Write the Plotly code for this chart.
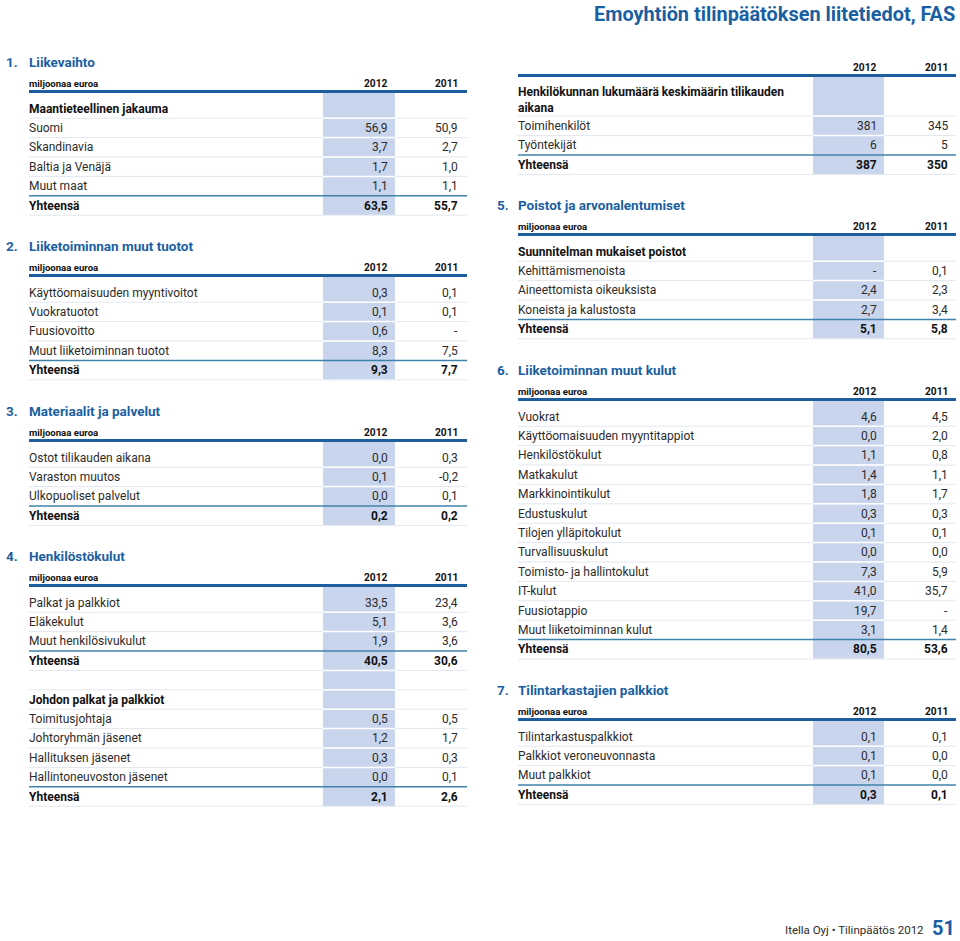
import plotly.graph_objects as go

# ---------------- data ----------------
page_title = "Emoyhtiön tilinpäätöksen liitetiedot, FAS"
years = ["2012", "2011"]
unit_label = "miljoonaa euroa"

s1_labels = ["Maantieteellinen jakauma", "Suomi", "Skandinavia", "Baltia ja Venäjä", "Muut maat", "Yhteensä"]
s1_2012 = ["", "56,9", "3,7", "1,7", "1,1", "63,5"]
s1_2011 = ["", "50,9", "2,7", "1,0", "1,1", "55,7"]

s2_labels = ["Käyttöomaisuuden myyntivoitot", "Vuokratuotot", "Fuusiovoitto", "Muut liiketoiminnan tuotot", "Yhteensä"]
s2_2012 = ["0,3", "0,1", "0,6", "8,3", "9,3"]
s2_2011 = ["0,1", "0,1", "-", "7,5", "7,7"]

s3_labels = ["Ostot tilikauden aikana", "Varaston muutos", "Ulkopuoliset palvelut", "Yhteensä"]
s3_2012 = ["0,0", "0,1", "0,0", "0,2"]
s3_2011 = ["0,3", "-0,2", "0,1", "0,2"]

s4_labels = ["Palkat ja palkkiot", "Eläkekulut", "Muut henkilösivukulut", "Yhteensä", "",
             "Johdon palkat ja palkkiot", "Toimitusjohtaja", "Johtoryhmän jäsenet",
             "Hallituksen jäsenet", "Hallintoneuvoston jäsenet", "Yhteensä"]
s4_2012 = ["33,5", "5,1", "1,9", "40,5", "", "", "0,5", "1,2", "0,3", "0,0", "2,1"]
s4_2011 = ["23,4", "3,6", "3,6", "30,6", "", "", "0,5", "1,7", "0,3", "0,1", "2,6"]

s4b_labels = ["Henkilökunnan lukumäärä keskimäärin tilikauden<br>aikana", "Toimihenkilöt", "Työntekijät", "Yhteensä"]
s4b_2012 = ["", "381", "6", "387"]
s4b_2011 = ["", "345", "5", "350"]

s5_labels = ["Suunnitelman mukaiset poistot", "Kehittämismenoista", "Aineettomista oikeuksista",
             "Koneista ja kalustosta", "Yhteensä"]
s5_2012 = ["", "-", "2,4", "2,7", "5,1"]
s5_2011 = ["", "0,1", "2,3", "3,4", "5,8"]

s6_labels = ["Vuokrat", "Käyttöomaisuuden myyntitappiot", "Henkilöstökulut", "Matkakulut",
             "Markkinointikulut", "Edustuskulut", "Tilojen ylläpitokulut", "Turvallisuuskulut",
             "Toimisto- ja hallintokulut", "IT-kulut", "Fuusiotappio", "Muut liiketoiminnan kulut", "Yhteensä"]
s6_2012 = ["4,6", "0,0", "1,1", "1,4", "1,8", "0,3", "0,1", "0,0", "7,3", "41,0", "19,7", "3,1", "80,5"]
s6_2011 = ["4,5", "2,0", "0,8", "1,1", "1,7", "0,3", "0,1", "0,0", "5,9", "35,7", "-", "1,4", "53,6"]

s7_labels = ["Tilintarkastuspalkkiot", "Palkkiot veroneuvonnasta", "Muut palkkiot", "Yhteensä"]
s7_2012 = ["0,1", "0,1", "0,1", "0,3"]
s7_2011 = ["0,1", "0,0", "0,0", "0,1"]

footer_text = "Itella Oyj • Tilinpäätös 2012"
page_number = "51"

# ---------------- styles ----------------
BLUE = "#1a5fa2"
LINEBLUE = "#1f5e9e"
SHADE = "#c9d5ec"
SEP = "#e3e7ee"
TOTALLINE = "#3f82ab"
TXT = "#2b2b2b"
BODY_FONT = "Roboto, sans-serif"
BOLD_FONT = "Roboto, sans-serif"
ROW = 19.4

cols = {
    "L": dict(num_x=6, x0=29, x1=467, s0=323, s1=395, v1=388, v2=458),
    "R": dict(num_x=497, x0=518, x1=956, s0=813, s1=884, v1=877, v2=948),
}

sections = [
    ("L", "1.", "Liikevaihto", 62, None, s1_labels, s1_2012, s1_2011, True),
    ("L", "2.", "Liiketoiminnan muut tuotot", 246, None, s2_labels, s2_2012, s2_2011, True),
    ("L", "3.", "Materiaalit ja palvelut", 411, None, s3_labels, s3_2012, s3_2011, True),
    ("L", "4.", "Henkilöstökulut", 556, None, s4_labels, s4_2012, s4_2011, True),
    ("R", None, None, None, 67, s4b_labels, s4b_2012, s4b_2011, False),
    ("R", "5.", "Poistot ja arvonalentumiset", 205, None, s5_labels, s5_2012, s5_2011, True),
    ("R", "6.", "Liiketoiminnan muut kulut", 370, None, s6_labels, s6_2012, s6_2011, True),
    ("R", "7.", "Tilintarkastajien palkkiot", 690, None, s7_labels, s7_2012, s7_2011, True),
]

fig = go.Figure()
shapes = []
ann = []


def text(x, y, s, size, color=TXT, bold=False, anchor="left", family=BODY_FONT):
    ann.append(dict(x=x, y=y, xref="x", yref="y", text=f"<b>{s}</b>" if bold else s,
                    showarrow=False, xanchor=anchor, yanchor="middle", align="left",
                    borderpad=0, borderwidth=0,
                    font=dict(family=family, size=size, color=color)))


def hline(x0, x1, y, color, w):
    shapes.append(dict(type="line", xref="x", yref="y", x0=x0, x1=x1, y0=y, y1=y,
                       line=dict(color=color, width=w), layer="above"))


for col, num, title, ty, hy, labels, v12, v11, show_unit in sections:
    c = cols[col]
    if ty is not None:
        text(c["num_x"], ty, num, 13.5, BLUE, True, family=BOLD_FONT)
        text(c["x0"], ty, title, 13.5, BLUE, True, family=BOLD_FONT)
        hy = ty + 21
    line_y = hy + 8.5
    if show_unit:
        text(c["x0"], hy, unit_label, 9.6, "#111", True)
    text(c["v1"], hy, years[0], 10.2, "#111", True, "right")
    text(c["v2"], hy, years[1], 10.2, "#111", True, "right")

    centres = []
    y = line_y + 17
    for lab in labels:
        if "<br>" in lab:
            centres.append(y + 7)
            y += ROW + 14
        else:
            centres.append(y)
            y += ROW
    bottom = centres[-1] + 9.5
    shapes.append(dict(type="rect", xref="x", yref="y", x0=c["s0"], x1=c["s1"], y0=line_y, y1=bottom,
                       fillcolor=SHADE, line=dict(width=0), layer="below"))
    for i, (lab, a, b) in enumerate(zip(labels, v12, v11)):
        yc = centres[i]
        is_total = lab == "Yhteensä"
        is_head = lab != "" and a == "" and b == "" and not is_total
        if lab:
            text(c["x0"], yc, lab, 12, "#111" if (is_total or is_head) else TXT, is_total or is_head)
        if a:
            text(c["v1"], yc, a, 12, "#111" if is_total else TXT, is_total, "right")
        if b:
            text(c["v2"], yc, b, 12, "#111" if is_total else TXT, is_total, "right")
        sep_y = (centres[i] + (centres[i + 1] if i + 1 < len(centres) else centres[i] + ROW)) / 2
        if "<br>" in lab:
            sep_y = centres[i] + 16.5
        nxt_total = i + 1 < len(labels) and labels[i + 1] == "Yhteensä"
        if nxt_total:
            hline(c["x0"], c["x1"], sep_y, TOTALLINE, 1.5)
        else:
            hline(c["x0"], c["x1"], sep_y, SEP, 1)
            if i + 1 < len(labels):
                hline(c["s0"], c["s1"], sep_y, "white", 1.5)
    hline(c["x0"], c["x1"], line_y, LINEBLUE, 3.2)

text(955, 14, page_title, 19.9, BLUE, True, "right", family=BOLD_FONT)
text(924, 930, footer_text, 11.5, TXT, False, "right")
text(955, 928, page_number, 20, BLUE, True, "right", family=BOLD_FONT)

fig.update_layout(
    width=960, height=941, margin=dict(l=0, r=0, t=0, b=0),
    paper_bgcolor="white", plot_bgcolor="white", showlegend=False,
    xaxis=dict(range=[0, 960], visible=False, fixedrange=True),
    yaxis=dict(range=[941, 0], visible=False, fixedrange=True),
    shapes=shapes, annotations=ann,
)
fig.write_html("out.html", config={"displayModeBar": False},
               post_script="document.body.style.margin='0';document.body.style.overflow='hidden';")
